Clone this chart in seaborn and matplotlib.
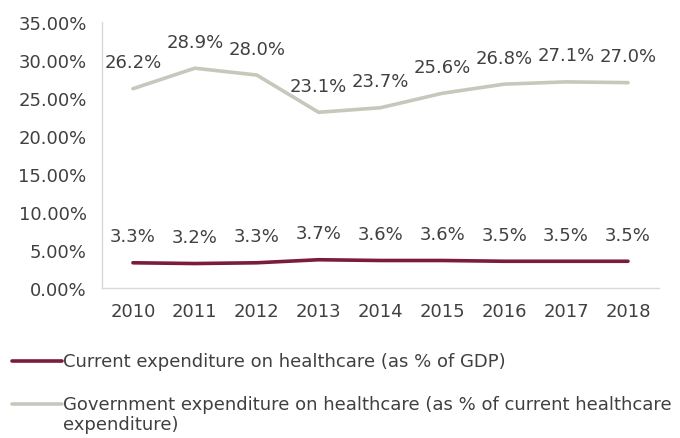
import matplotlib
matplotlib.use("Agg")
import matplotlib.pyplot as plt
from matplotlib.lines import Line2D
from matplotlib.ticker import PercentFormatter
import pandas as pd
import seaborn as sns

years = ["2010", "2011", "2012", "2013", "2014", "2015", "2016", "2017", "2018"]
current_exp_gdp = [3.3, 3.2, 3.3, 3.7, 3.6, 3.6, 3.5, 3.5, 3.5]
gov_exp_share = [26.2, 28.9, 28.0, 23.1, 23.7, 25.6, 26.8, 27.1, 27.0]
series_names = [
    "Current expenditure on healthcare (as % of GDP)",
    "Government expenditure on healthcare (as % of current healthcare\nexpenditure)",
]
y_ticks = [0, 5, 10, 15, 20, 25, 30, 35]

RED = "#7b1c3a"
GREY = "#c6c8bc"
TEXT = "#404040"

sns.set_theme(style="white")
plt.rcParams["font.family"] = ["DejaVu Sans"]

df = pd.DataFrame({
    "year": years * 2,
    "value": current_exp_gdp + gov_exp_share,
    "series": [series_names[0]] * len(years) + [series_names[1]] * len(years),
})

fig = plt.figure(figsize=(6.8, 4.39), dpi=100)
ax = fig.add_axes([0.15, 0.342, 0.819, 0.606])

sns.lineplot(data=df, x="year", y="value", hue="series",
             palette={series_names[0]: RED, series_names[1]: GREY},
             linewidth=2.6, ax=ax, legend=False, sort=False)

# value labels above each point
for vals in (current_exp_gdp, gov_exp_share):
    for i, v in enumerate(vals):
        ax.annotate(f"{v:.1f}%", (i, v), xytext=(0, 19), textcoords="offset points",
                    ha="center", va="center", fontsize=13, color=TEXT)

ax.set_xlim(-0.5, len(years) - 0.5)
ax.set_ylim(0, 35)
ax.set_yticks(y_ticks)
ax.yaxis.set_major_formatter(PercentFormatter(decimals=2))
ax.set_xlabel("")
ax.set_ylabel("")
ax.tick_params(axis="both", length=0, labelsize=13, labelcolor=TEXT)
ax.tick_params(axis="x", pad=10)
ax.tick_params(axis="y", pad=11)
for side in ("top", "right"):
    ax.spines[side].set_visible(False)
for side in ("left", "bottom"):
    ax.spines[side].set_color("#d9d9d9")
    ax.spines[side].set_linewidth(1)

# legend below the plot: handle line, then its label (second label wraps)
legend_rows = [(series_names[0], RED, 0.175), (series_names[1], GREY, 0.077)]
for label, color, y in legend_rows:
    fig.add_artist(Line2D([0.017, 0.091], [y, y], color=color, linewidth=2.6,
                          transform=fig.transFigure))
    fig.text(0.093, y + 0.022, label, fontsize=13, color=TEXT,
             ha="left", va="top", linespacing=1.2,
             transform=fig.transFigure)

fig.savefig("out.png", dpi=100)
